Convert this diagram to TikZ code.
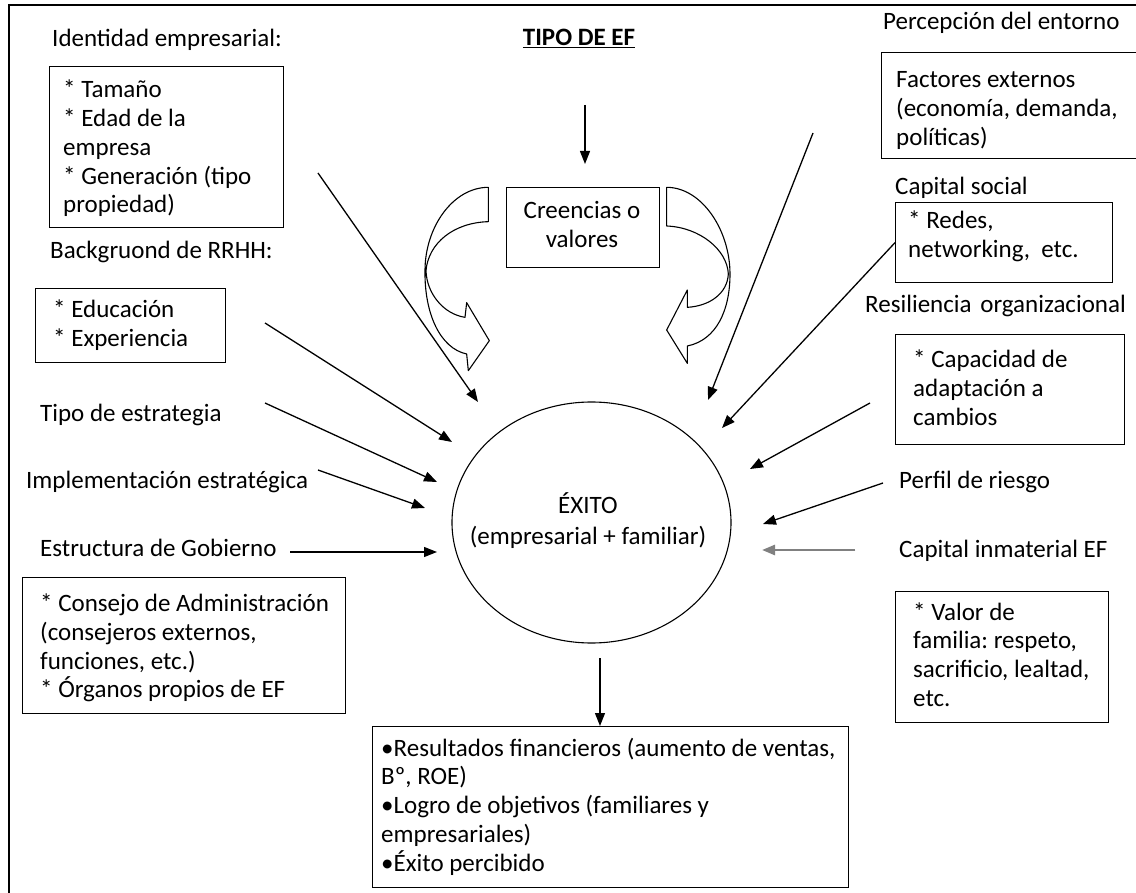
\documentclass[tikz,border=0pt]{standalone}
\usepackage{fontspec}
\setmainfont{Carlito}
\usetikzlibrary{arrows.meta,shapes.geometric}
\newcommand\lbfont{\fontsize{25}{28.8}\selectfont\frenchspacing}
\begin{document}
\begin{tikzpicture}[x=1pt,y=-1pt,
  lbl/.style={anchor=base west, inner sep=0pt, font=\lbfont},
  boxfr/.style={draw, line width=1.3pt, anchor=north west, inner sep=0pt},
  btxt/.style={anchor=west, align=left, inner sep=0pt, font=\lbfont},
  arr/.style={-{Triangle[length=13pt,width=10pt]}, line width=1.3pt},
  curv/.style={draw, line width=1.1pt, line join=round}]
\useasboundingbox (0,0) rectangle (1136,893);

% page frame (left and top edges)
\draw[line width=2.2pt] (9,893) -- (9,5) -- (1136,5);

% ---------- left column ----------
\node[lbl] (lId) at (52,47) {Identidad empresarial:};
\node[boxfr, minimum width=234pt, minimum height=161pt] (bId) at (49,66) {};
\node[btxt] (tId) at (63,149.5)
  {\strut{}* Tamaño\\{}* Edad de la\\empresa\\{}* Generación (tipo\\propiedad)\strut};

\node[lbl] (lRH) at (50,259) {Backgruond de RRHH:};
\node[boxfr, minimum width=190pt, minimum height=74pt] (bRH) at (35,288) {};
\node[btxt] (tRH) at (53,326.5) {\strut{}* Educación\\{}* Experiencia\strut};

\node[lbl] (lTipo) at (40,421) {Tipo de estrategia};
\node[lbl] (lImp) at (26,488) {Implementación estratégica};
\node[lbl] (lGob) at (40,556) {Estructura de Gobierno};
\node[boxfr, minimum width=323pt, minimum height=136pt] (bGob) at (22,577) {};
\node[btxt] (tGob) at (40,649)
  {\strut{}* Consejo de Administración\\(consejeros externos,\\funciones, etc.)\\{}* Órganos propios de EF\strut};

% ---------- centre ----------
\node[font=\lbfont\bfseries, inner sep=0pt, anchor=base] (tipo) at (579,46) {\underline{TIPO DE EF}};
\node[boxfr, minimum width=153pt, minimum height=80pt] (bCre) at (506,187) {};
\node[btxt, align=center, anchor=center] (tCre) at (582,227) {\strut Creencias o\\valores\strut};
\node[draw, ellipse, line width=1.1pt, minimum width=279pt, minimum height=241pt, inner sep=0pt]
  (exito) at (591.5,522.5) {};
\node[align=center, inner sep=0pt, font=\fontsize{25}{31}\selectfont] (tExito) at (588,522.5)
  {\strut ÉXITO\\(empresarial + familiar)\strut};
\node[boxfr, minimum width=476pt, minimum height=161pt] (bRes) at (372,726) {};
\node[btxt] (tRes) at (381,808)
  {\strut•Resultados financieros (aumento de ventas,\\Bº, ROE)\\•Logro de objetivos (familiares y\\empresariales)\\•Éxito percibido\strut};

% curved block arrows beside the beliefs box
\begin{scope}[shift={(400,150)}, scale=1/3]
  \path[curv] (265,112) -- (265,215)
    .. controls (160,218) and (85,280) .. (78,362)
    .. controls (80,430) and (130,492) .. (195,502)
    -- (200,458) -- (268,572) -- (205,662) -- (200,612)
    .. controls (120,595) and (73,490) .. (75,362)
    .. controls (75,230) and (160,112) .. cycle;
  \path[curv] (800,112) -- (800,228)
    .. controls (900,232) and (982,300) .. (985,372)
    .. controls (982,430) and (930,468) .. (862,472)
    -- (862,420) -- (800,540) -- (862,640) -- (862,588)
    .. controls (950,570) and (990,480) .. (990,372)
    .. controls (990,240) and (905,112) .. cycle;
\end{scope}

% ---------- right column ----------
\node[lbl] (lEnt) at (883,30) {Percepción del entorno};
\node[boxfr, minimum width=270pt, minimum height=106pt] (bEnt) at (881,52) {};
\node[btxt] (tEnt) at (896,111) {\strut Factores externos\\(economía, demanda,\\políticas)\strut};

\node[lbl] (lSoc) at (895,195) {Capital social};
\node[boxfr, minimum width=217pt, minimum height=80pt] (bSoc) at (895,202) {};
\node[btxt] (tSoc) at (908,237) {\strut{}* Redes,\\networking,\ \ etc.\strut};

\node[lbl] (lResi) at (865,313) {Resiliencia\hspace{0.35em}organizacional};
\node[boxfr, minimum width=229pt, minimum height=110pt] (bAd) at (895,334) {};
\node[btxt] (tAd) at (913,391) {\strut{}* Capacidad de\\adaptación a\\cambios\strut};

\node[lbl] (lRies) at (899,488) {Perfil de riesgo};
\node[lbl] (lInm) at (899,557) {Capital inmaterial EF};
\node[boxfr, minimum width=213pt, minimum height=131pt] (bVal) at (895,591) {};
\node[btxt] (tVal) at (913,657.5) {\strut{}* Valor de\\familia: respeto,\\sacrificio, lealtad,\\etc.\strut};

% ---------- connector ends ----------
\coordinate (tipoS) at (585,105);  \coordinate (tipoE) at (585,164);
\coordinate (idS) at (318,173);    \coordinate (idE) at (478,402);
\coordinate (rhS) at (265,323);    \coordinate (rhE) at (452,442);
\coordinate (tiS) at (265,403);    \coordinate (tiE) at (437,482);
\coordinate (imS) at (318,470);    \coordinate (imE) at (425,508);
\coordinate (goS) at (290,552);    \coordinate (goE) at (437,552);
\coordinate (enS) at (813,133);    \coordinate (enE) at (708,400);
\coordinate (soE) at (722,428);
\coordinate (reS) at (870,403);    \coordinate (reE) at (750,469);
\coordinate (riS) at (883,483);    \coordinate (riE) at (763,524);
\coordinate (inS) at (855,550);    \coordinate (inE) at (762,550);
\coordinate (exS) at (600,658);    \coordinate (exE) at (600,726);

% ---------- connectors ----------
\draw[arr] (tipoS) -- (tipoE);
\draw[arr] (idS) -- (idE);
\draw[arr] (rhS) -- (rhE);
\draw[arr] (tiS) -- (tiE);
\draw[arr] (imS) -- (imE);
\draw[arr] (goS) -- (goE);
\draw[arr] (enS) -- (enE);
\draw[arr] (bSoc.west) -- (soE);
\draw[arr] (reS) -- (reE);
\draw[arr] (riS) -- (riE);
\draw[arr, line width=2.6pt, draw=black!50, fill=black] (inS) -- (inE);
\draw[arr] (exS) -- (exE);
\end{tikzpicture}
\end{document}
